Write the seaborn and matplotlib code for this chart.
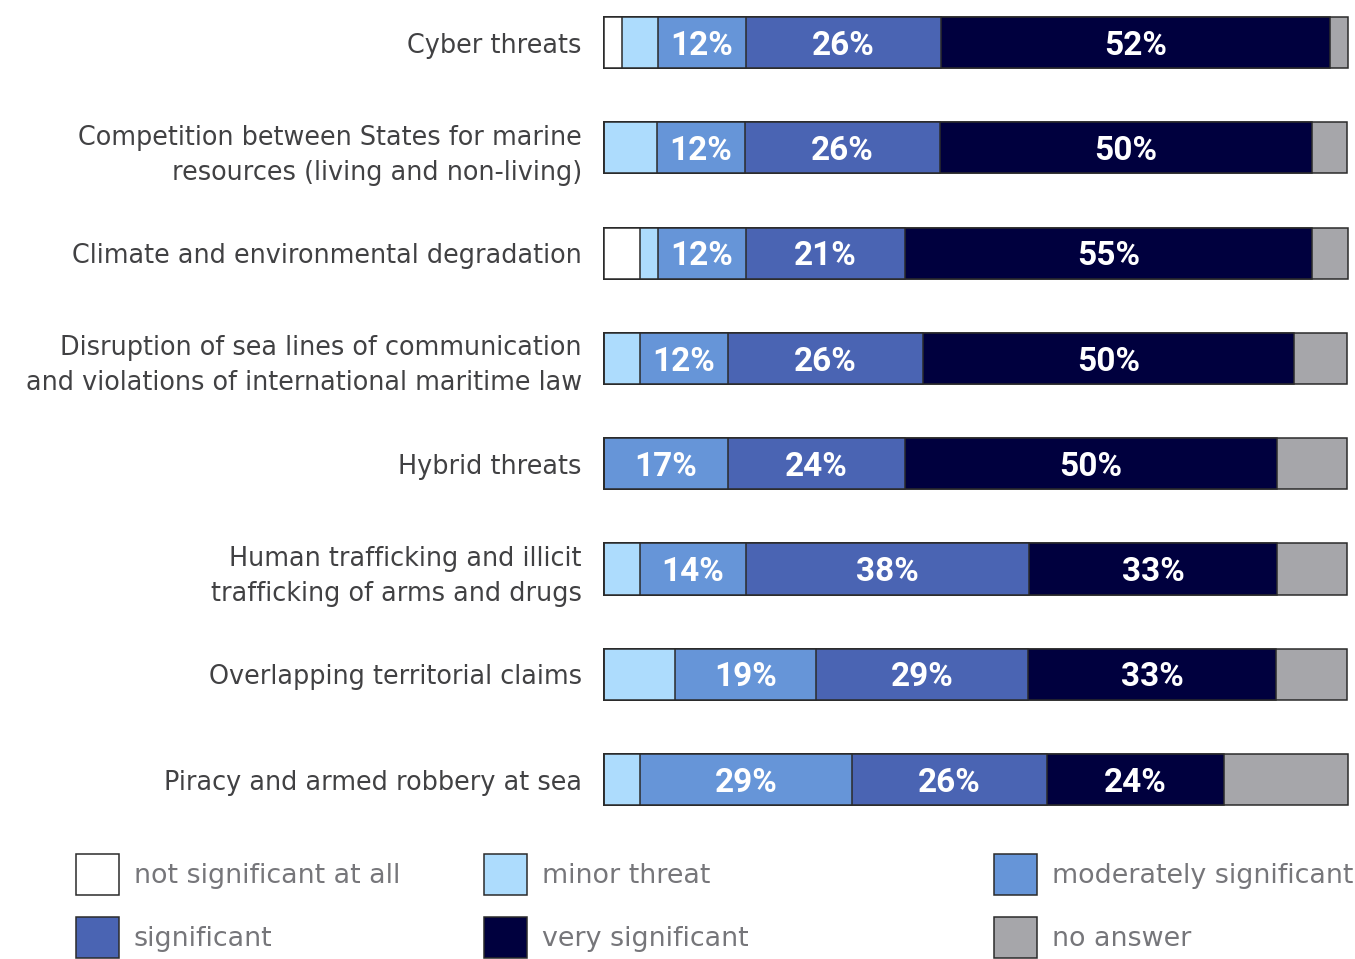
import numpy as np
import pandas as pd
import matplotlib
matplotlib.use("Agg")
import matplotlib.pyplot as plt
import seaborn as sns
from matplotlib.patches import Patch

# Data (share of respondents, %)
categories = [
    "Cyber threats",
    "Competition between States for marine\nresources (living and non-living)",
    "Climate and environmental degradation",
    "Disruption of sea lines of communication\nand violations of international maritime law",
    "Hybrid threats",
    "Human trafficking and illicit\ntrafficking of arms and drugs",
    "Overlapping territorial claims",
    "Piracy and armed robbery at sea",
]
levels = ["not significant at all", "minor threat", "moderately significant",
          "significant", "very significant", "no answer"]
not_significant = [2.4, 0.0, 4.8, 0.0, 0.0, 0.0, 0.0, 0.0]
minor = [4.8, 7.1, 2.4, 4.8, 0.0, 4.8, 9.5, 4.8]
moderate = [11.9, 11.9, 11.9, 11.9, 16.7, 14.3, 19.0, 28.6]
significant = [26.2, 26.2, 21.4, 26.2, 23.8, 38.1, 28.6, 26.2]
very_significant = [52.4, 50.0, 54.8, 50.0, 50.0, 33.3, 33.3, 23.8]
no_answer = [2.4, 4.8, 4.8, 7.1, 9.5, 9.5, 9.5, 16.7]

colors = ["#FFFFFF", "#ADDCFD", "#6695D8", "#4A64B3", "#00003E", "#A6A6AA"]
labelled = ["moderately significant", "significant", "very significant"]

df = pd.DataFrame({"category": categories,
                   levels[0]: not_significant, levels[1]: minor,
                   levels[2]: moderate, levels[3]: significant,
                   levels[4]: very_significant, levels[5]: no_answer})
cum = df[levels].cumsum(axis=1)

sns.set_theme(style="white")
plt.rcParams["font.family"] = ["DejaVu Sans"]

W, H = 1355, 959
fig = plt.figure(figsize=(W / 100, H / 100), dpi=100)
ax_top, ax_bot = 12, 812
ax = fig.add_axes([604 / W, 1 - ax_bot / H, (1348 - 604) / W, (ax_bot - ax_top) / H])

# draw cumulative layers from right to left so each one covers the previous
for lvl, col in reversed(list(zip(levels, colors))):
    sns.barplot(x=cum[lvl], y=df["category"], color=col, orient="h",
                width=0.485, saturation=1, edgecolor="#2b2b2b", linewidth=1.1, ax=ax)

for p in ax.patches:
    p.set_clip_on(False)

# percentage labels
for i in range(len(df)):
    for lvl in labelled:
        v = df.loc[i, lvl]
        x = cum.loc[i, lvl] - v / 2
        ax.text(x, i + 0.03, f"{v:.0f}%", ha="center", va="center", color="white",
                fontsize=24, fontweight="bold", family=["Roboto", "DejaVu Sans"])

step = 105.3
ax.set_ylim((ax_bot - 42.5) / step, (ax_top - 42.5) / step)
ax.set_xlim(0, cum[levels[-1]].max())
ax.set_xlabel("")
ax.set_ylabel("")
ax.set_xticks([])
sns.despine(ax=ax, left=True, bottom=True)
ax.tick_params(axis="y", length=0, pad=16, labelsize=18.4, labelcolor="#414143")
for t in ax.get_yticklabels():
    t.set_horizontalalignment("right")
    t.set_linespacing(1.44)

# legend, one column at a time
handles = [Patch(facecolor=c, edgecolor="#2b2b2b", linewidth=1.1) for c in colors]
col_x = [76, 484, 994]
for j in range(3):
    idx = [j, j + 3]
    fig.legend([handles[k] for k in idx], [levels[k] for k in idx],
               loc="upper left", bbox_to_anchor=(col_x[j] / W, 1 - 854 / H),
               frameon=False, fontsize=19.4, handlelength=1.6, handleheight=1.97,
               handletextpad=0.55, labelspacing=0.8, borderpad=0, borderaxespad=0,
               labelcolor="#76767a")

fig.savefig("out.png", dpi=100)
